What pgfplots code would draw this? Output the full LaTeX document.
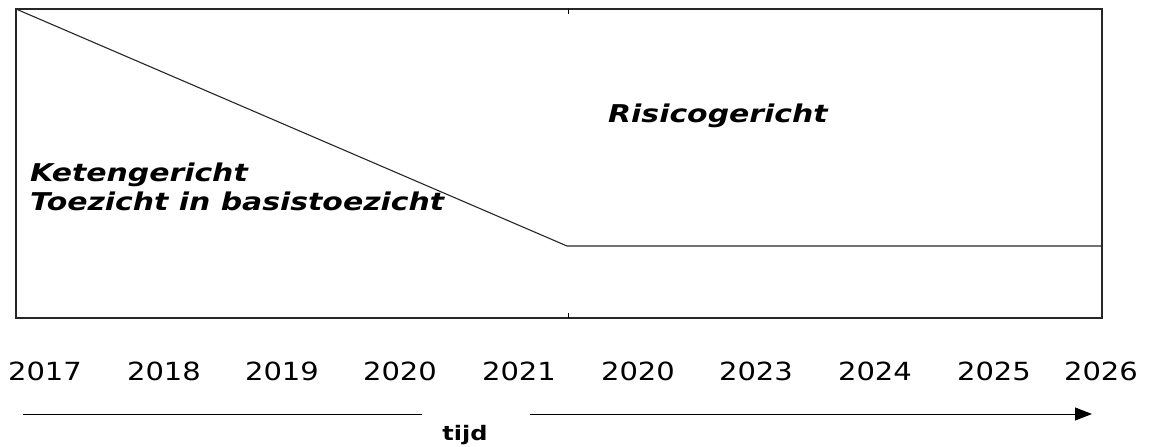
\documentclass[border=0pt]{standalone}
\usepackage{pgfplots}
\pgfplotsset{compat=1.18}
\usetikzlibrary{arrows.meta}
\usepackage{fontspec}
\setmainfont{DejaVu Sans}
\newfontfamily\yearfont[FakeStretch=1.16]{DejaVu Sans}
\newfontfamily\labfont[FakeStretch=1.22]{DejaVu Sans}
\newfontfamily\tijdfont[FakeStretch=1.2]{DejaVu Sans}
\begin{document}
\begin{tikzpicture}
\begin{axis}[
  scale only axis,
  width=1086pt, height=309pt,
  xmin=16, xmax=1102, ymin=0, ymax=309,
  clip=false,
  axis line style={draw=black!85, line width=1.4pt},
  ytick=\empty,
  xtick={45,164,282,400,519,638,756,875,994,1101},
  xticklabels={2017,2018,2019,2020,2021,2020,2023,2024,2025,2026},
  major tick length=0pt,
  xticklabel style={font=\yearfont\fontsize{25}{29}\selectfont, anchor=base, yshift=-62pt, inner sep=0pt},
  extra x ticks={568},
  extra x tick labels={},
  extra x tick style={major tick length=5pt, tick style={draw=black, line width=1pt}},
]
\addplot[draw=black!85, line width=1.1pt] coordinates {(16,309) (567,72) (1102,72)};
\node[anchor=base west, font=\labfont\bfseries\itshape\fontsize{24.5}{28}\selectfont, inner sep=0pt] at (axis cs:30,136) {Ketengericht};
\node[anchor=base west, font=\labfont\bfseries\itshape\fontsize{24.5}{28}\selectfont, inner sep=0pt] at (axis cs:30,108) {Toezicht in basistoezicht};
\node[anchor=base west, font=\labfont\bfseries\itshape\fontsize{24.5}{28}\selectfont, inner sep=0pt] at (axis cs:608,195) {Risicogericht};
\draw[black, line width=1pt] (axis cs:23,-96) -- (axis cs:422,-96);
\draw[black, line width=1pt, -{Triangle[length=17pt,width=13pt]}] (axis cs:530,-96) -- (axis cs:1092,-96);
\node[anchor=base, font=\tijdfont\bfseries\fontsize{20}{24}\selectfont, inner sep=0pt] at (axis cs:465,-122) {tijd};
\path (axis cs:0,-129) rectangle (axis cs:1149,318);
\end{axis}
\end{tikzpicture}
\end{document}
